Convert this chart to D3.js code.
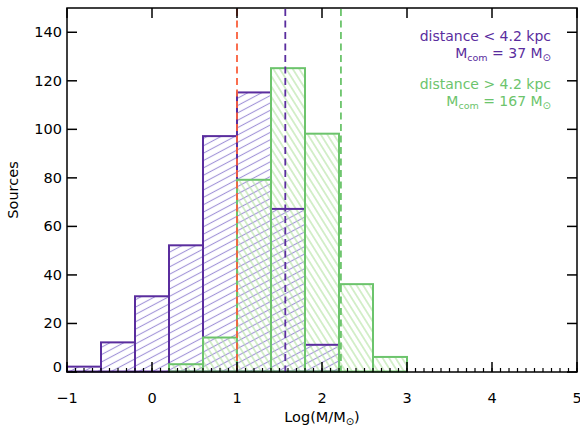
<!DOCTYPE html>
<html><head><meta charset="utf-8">
<script src="https://cdn.jsdelivr.net/npm/d3@7"></script>
<style>body{margin:0;background:#fff}svg{display:block}text{font-family:"DejaVu Sans",sans-serif}</style>
</head><body><svg id="c" width="580" height="430"></svg>
<script>
const binStarts = [-1.0,-0.6,-0.2,0.2,0.6,1.0,1.4,1.8,2.2,2.6,3.0];
const binWidth = 0.4;
const nearCounts = [2,12,31,52,97,115,67,11,0,0,0];
const farCounts  = [0,0,0,3,14,79,125,98,36,6,0];
const xTicks = [-1,0,1,2,3,4,5];
const xTickLabels = ["\u22121","0","1","2","3","4","5"];
const yTicks = [0,20,40,60,80,100,120,140];
const refLines = [ {x:1.0, c:"red"}, {x:Math.log10(37), c:"purple"}, {x:Math.log10(167), c:"green"} ];

const col = {purple:"#5a2d9e", green:"#6cc46c", red:"#fa5f3c", hp:"#a294d8", hg:"#b4e3a3"};
const svg = d3.select("#c");
const L=67, R=577, T=8, B=372;
const x = d3.scaleLinear().domain([-1,5]).range([L,R]);
const y = d3.scaleLinear().domain([0,150]).range([B,T]);

const defs = svg.append("defs");
function hatch(id, color, angle, sp){
  const p = defs.append("pattern").attr("id",id).attr("patternUnits","userSpaceOnUse")
    .attr("width",20).attr("height",sp).attr("patternTransform",`rotate(${angle})`);
  p.append("line").attr("x1",0).attr("x2",20).attr("y1",sp/2).attr("y2",sp/2)
    .attr("stroke",color).attr("stroke-width",1.1);
}
hatch("hp", col.hp, -28, 6.5);
hatch("hg", col.hg, 58, 5.5);

const near = binStarts.map((s,i)=>({s, v:nearCounts[i]}));
const far = binStarts.map((s,i)=>({s, v:farCounts[i]}));

const g = svg.append("g");
g.selectAll("rect.np").data(near.filter(d=>d.v>0)).join("rect")
  .attr("x",d=>x(d.s)).attr("width",d=>x(d.s+binWidth)-x(d.s))
  .attr("y",d=>y(d.v)).attr("height",d=>y(0)-y(d.v)).attr("fill","url(#hp)");
g.selectAll("rect.fp").data(far.filter(d=>d.v>0)).join("rect")
  .attr("x",d=>x(d.s)).attr("width",d=>x(d.s+binWidth)-x(d.s))
  .attr("y",d=>y(d.v)).attr("height",d=>y(0)-y(d.v)).attr("fill","url(#hg)");
function outline(data,color){
  g.append("g").selectAll("rect").data(data).join("rect")
    .attr("x",d=>x(d.s)).attr("width",d=>x(d.s+binWidth)-x(d.s))
    .attr("y",d=>y(d.v)-0.5).attr("height",d=>y(0)-y(d.v))
    .attr("fill","none").attr("stroke",color).attr("stroke-width",2);
}
outline(near.slice(0,8), col.purple);
outline(far, col.green);

// ref lines
g.selectAll("line.ref").data(refLines).join("line")
  .attr("x1",d=>x(d.x)).attr("x2",d=>x(d.x)).attr("y1",T+1).attr("y2",B)
  .attr("stroke",d=>col[d.c]).attr("stroke-width",1.8).attr("stroke-dasharray","7,4.5");

// frame
svg.append("rect").attr("x",L).attr("y",T).attr("width",R-L).attr("height",B-T)
  .attr("fill","none").attr("stroke","#000").attr("stroke-width",1.5);

// x ticks
const minor = d3.range(-1,5.001,0.1);
svg.append("g").selectAll("line").data(minor).join("line")
  .attr("x1",d=>x(d)).attr("x2",d=>x(d)).attr("y1",B).attr("y2",B-4).attr("stroke","#000").attr("stroke-width",1.2);
svg.append("g").selectAll("line").data(xTicks).join("line")
  .attr("x1",d=>x(d)).attr("x2",d=>x(d)).attr("y1",B).attr("y2",B-10).attr("stroke","#000").attr("stroke-width",1.5);
svg.append("g").selectAll("line").data(xTicks).join("line")
  .attr("x1",d=>x(d)).attr("x2",d=>x(d)).attr("y1",T).attr("y2",T+10).attr("stroke","#000").attr("stroke-width",1.5);
svg.append("g").selectAll("text").data(xTicks).join("text")
  .attr("x",d=>x(d)).attr("y",403).attr("text-anchor","middle").attr("font-size",14.5)
  .text((d,i)=>xTickLabels[i]);
// y ticks
svg.append("g").selectAll("line").data(yTicks).join("line")
  .attr("x1",L).attr("x2",L+10).attr("y1",d=>y(d)).attr("y2",d=>y(d)).attr("stroke","#000").attr("stroke-width",1.5);
svg.append("g").selectAll("line").data(yTicks).join("line")
  .attr("x1",R-10).attr("x2",R).attr("y1",d=>y(d)).attr("y2",d=>y(d)).attr("stroke","#000").attr("stroke-width",1.5);
svg.append("g").selectAll("text").data(yTicks).join("text")
  .attr("x",62).attr("y",d=>Math.min(y(d)+5,372)).attr("text-anchor","end").attr("font-size",14.5)
  .text(d=>d);

// axis titles
const xt = svg.append("text").attr("x",322).attr("y",422).attr("text-anchor","middle").attr("font-size",14.5);
xt.append("tspan").text("Log(M/M");
xt.append("tspan").attr("font-size",10).attr("dy",3).text("\u2299");
xt.append("tspan").attr("dy",-3).text(")");
svg.append("text").attr("transform","translate(18,190) rotate(-90)").attr("text-anchor","middle")
  .attr("font-size",14.5).text("Sources");

// legend
function leg(y0, color, l1, mass){
  svg.append("text").attr("x",551).attr("y",y0).attr("text-anchor","end").attr("font-size",14)
    .attr("fill",color).text(l1);
  const t = svg.append("text").attr("x",551).attr("y",y0+17).attr("text-anchor","end").attr("font-size",14).attr("fill",color);
  t.append("tspan").text("M");
  t.append("tspan").attr("font-size",9.5).attr("dy",3).text("com");
  t.append("tspan").attr("dy",-3).text(" = " + mass + " M");
  t.append("tspan").attr("font-size",10).attr("dy",3).text("\u2299");
}
leg(41, col.purple, "distance < 4.2 kpc", "37");
leg(89, col.green, "distance > 4.2 kpc", "167");
</script></body></html>
